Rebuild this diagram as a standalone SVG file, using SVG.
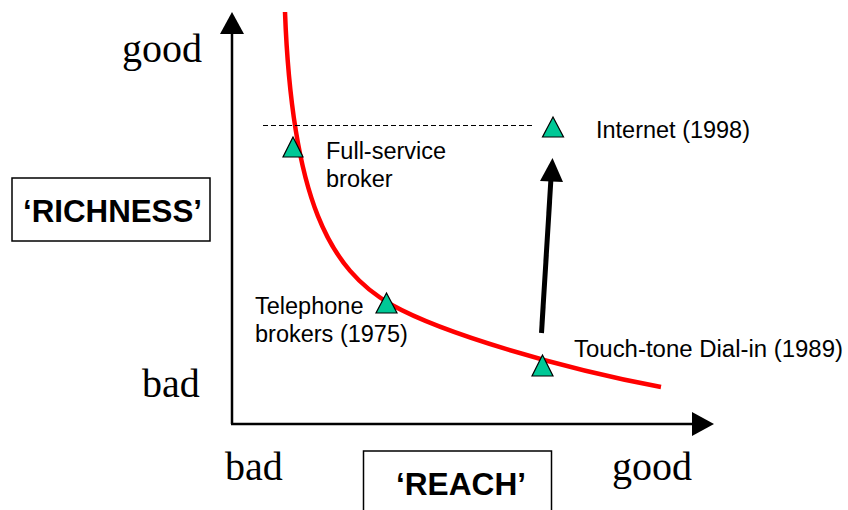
<svg xmlns="http://www.w3.org/2000/svg" width="848" height="510" viewBox="0 0 848 510">
<defs>
<style>
.serif{font-family:"Liberation Serif","Times New Roman",serif;font-size:40px;fill:#000}
.lbl{font-family:"Liberation Sans",Arial,sans-serif;font-size:23.5px;fill:#000}
.big{font-family:"Liberation Sans",Arial,sans-serif;font-size:31px;font-weight:bold;fill:#000}
.box{fill:#fff;stroke:#000;stroke-width:1.5}
.tri{fill:#00C896;stroke:#000;stroke-width:1.2;stroke-linejoin:miter}
.axis{stroke:#000;stroke-width:2.5;fill:none}
</style>
</defs>
<rect width="848" height="510" fill="#fff"/>
<g id="axes">
<line class="axis" x1="232" y1="30" x2="232" y2="424"/>
<polygon points="232,12 220,34 244,34" fill="#000"/>
<line class="axis" x1="231" y1="424" x2="695" y2="424"/>
<polygon points="714,424 692,412 692,436" fill="#000"/>
</g>
<g id="curve">
<path d="M285,12 C292,200 330,270 392,305 C442,333 560,368 661,387" fill="none" stroke="#FF0000" stroke-width="4.5"/>
</g>
<g id="connectors">
<line x1="263" y1="125.5" x2="533" y2="125.5" stroke="#000" stroke-width="1" stroke-dasharray="5,3"/>
<line x1="541.5" y1="333" x2="551" y2="178" stroke="#000" stroke-width="5"/>
<polygon points="552.5,158 540,181 563,182" fill="#000"/>
</g>
<g id="axis-labels">
<text class="serif" x="122" y="62">good</text>
<text class="serif" x="142" y="397">bad</text>
<text class="serif" x="225" y="480">bad</text>
<text class="serif" x="612" y="480">good</text>
</g>
<g id="richness">
<rect class="box" x="12" y="178" width="198" height="63"/>
<text class="big" x="23" y="222" textLength="179" lengthAdjust="spacingAndGlyphs">‘RICHNESS’</text>
</g>
<g id="reach">
<rect class="box" x="363.5" y="451" width="188" height="70"/>
<text class="big" x="396" y="495" textLength="130" lengthAdjust="spacingAndGlyphs">‘REACH’</text>
</g>
<g id="full-service">
<polygon class="tri" points="293,137 283,157 303,157"/>
<text class="lbl" x="326" y="159">Full-service</text>
<text class="lbl" x="326" y="187">broker</text>
</g>
<g id="internet">
<polygon class="tri" points="553,117 542.5,137 563.5,137"/>
<text class="lbl" x="596" y="138" textLength="154" lengthAdjust="spacingAndGlyphs">Internet (1998)</text>
</g>
<g id="telephone">
<polygon class="tri" points="386.5,293 376,313 397,313"/>
<text class="lbl" x="255" y="314">Telephone</text>
<text class="lbl" x="255" y="342">brokers (1975)</text>
</g>
<g id="touch-tone">
<polygon class="tri" points="542.5,355 532,376 553,376"/>
<text class="lbl" x="574" y="357" textLength="269" lengthAdjust="spacingAndGlyphs">Touch-tone Dial-in (1989)</text>
</g>
</svg>
